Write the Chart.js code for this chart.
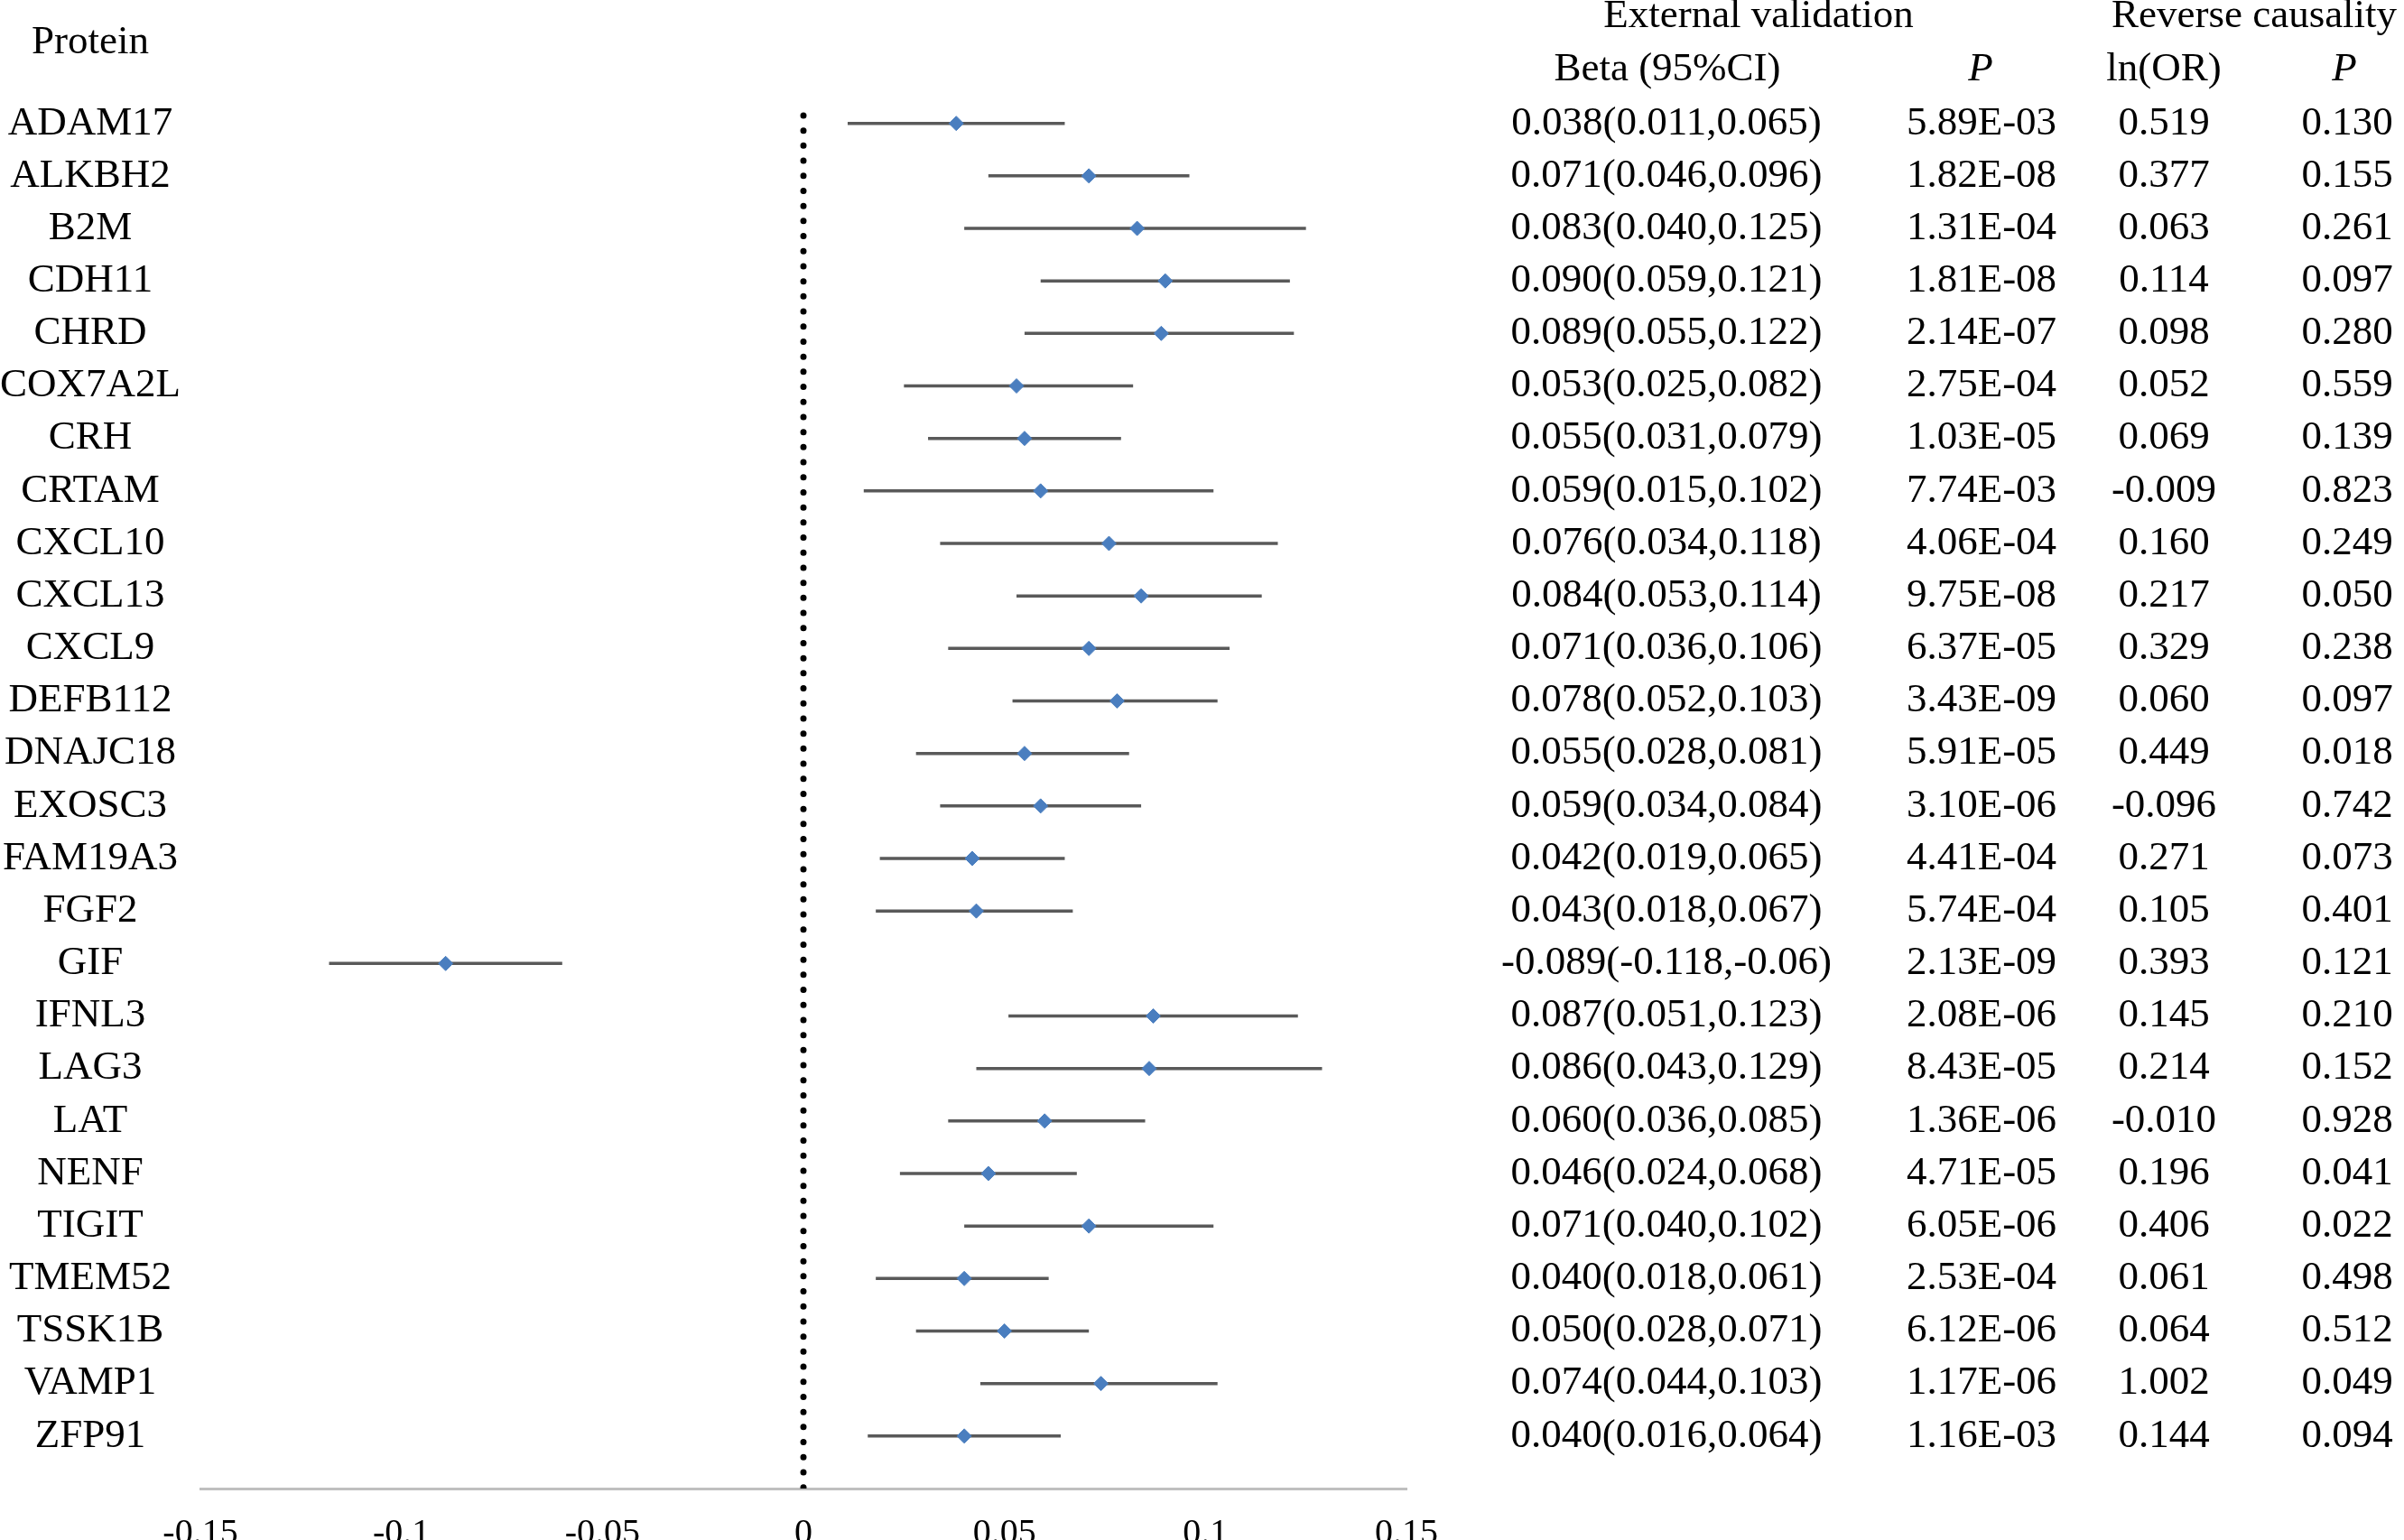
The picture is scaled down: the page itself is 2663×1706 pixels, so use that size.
<!DOCTYPE html>
<html>
<head>
<meta charset="UTF-8">
<title>Forest plot</title>
<script src="https://cdn.jsdelivr.net/npm/chart.js@4.4.1/dist/chart.umd.min.js"></script>
<style>
  html, body { margin: 0; padding: 0; background: #fff; overflow: hidden; }
  #wrap { position: relative; width: 2663px; height: 1749px; }
</style>
</head>
<body>
<div id="wrap"><canvas id="forest"></canvas></div>
<script>
// data
var proteins = ["ADAM17", "ALKBH2", "B2M", "CDH11", "CHRD", "COX7A2L", "CRH", "CRTAM",
  "CXCL10", "CXCL13", "CXCL9", "DEFB112", "DNAJC18", "EXOSC3", "FAM19A3", "FGF2",
  "GIF", "IFNL3", "LAG3", "LAT", "NENF", "TIGIT", "TMEM52", "TSSK1B", "VAMP1", "ZFP91"];
var beta = [0.038, 0.071, 0.083, 0.090, 0.089, 0.053, 0.055, 0.059, 0.076, 0.084, 0.071, 0.078, 0.055,
  0.059, 0.042, 0.043, -0.089, 0.087, 0.086, 0.060, 0.046, 0.071, 0.040, 0.050, 0.074, 0.040];
var lower = [0.011, 0.046, 0.040, 0.059, 0.055, 0.025, 0.031, 0.015, 0.034, 0.053, 0.036, 0.052, 0.028,
  0.034, 0.019, 0.018, -0.118, 0.051, 0.043, 0.036, 0.024, 0.040, 0.018, 0.028, 0.044, 0.016];
var upper = [0.065, 0.096, 0.125, 0.121, 0.122, 0.082, 0.079, 0.102, 0.118, 0.114, 0.106, 0.103, 0.081,
  0.084, 0.065, 0.067, -0.06, 0.123, 0.129, 0.085, 0.068, 0.102, 0.061, 0.071, 0.103, 0.064];
var pExternal = ["5.89E-03", "1.82E-08", "1.31E-04", "1.81E-08", "2.14E-07", "2.75E-04", "1.03E-05",
  "7.74E-03", "4.06E-04", "9.75E-08", "6.37E-05", "3.43E-09", "5.91E-05", "3.10E-06", "4.41E-04",
  "5.74E-04", "2.13E-09", "2.08E-06", "8.43E-05", "1.36E-06", "4.71E-05", "6.05E-06", "2.53E-04",
  "6.12E-06", "1.17E-06", "1.16E-03"];
var lnOR = ["0.519", "0.377", "0.063", "0.114", "0.098", "0.052", "0.069", "-0.009", "0.160", "0.217",
  "0.329", "0.060", "0.449", "-0.096", "0.271", "0.105", "0.393", "0.145", "0.214", "-0.010", "0.196",
  "0.406", "0.061", "0.064", "1.002", "0.144"];
var pReverse = ["0.130", "0.155", "0.261", "0.097", "0.280", "0.559", "0.139", "0.823", "0.249", "0.050",
  "0.238", "0.097", "0.018", "0.742", "0.073", "0.401", "0.121", "0.210", "0.152", "0.928", "0.041",
  "0.022", "0.498", "0.512", "0.049", "0.094"];
var xTicks = [-0.15, -0.1, -0.05, 0, 0.05, 0.1, 0.15];

var serif = '"Liberation Serif", "Times New Roman", serif';

function fmt(v) {
  // the figure drops trailing zeros on negative numbers (-0.06)
  return v < 0 ? String(v) : v.toFixed(3);
}

function buildData() {
  var bars = [], points = [];
  for (var i = 0; i < proteins.length; i++) {
    bars.push({x: lower[i], y: i + 1});
    bars.push({x: upper[i], y: i + 1});
    bars.push({x: null, y: null});
    points.push({x: beta[i], y: i + 1});
  }
  return {bars: bars, points: points};
}

// the table on the right side, rows placed on the chart's y scale
var tablePlugin = {
  id: 'table',
  afterDraw: function(chart) {
    var ctx = chart.ctx, ys = chart.scales.y;
    ctx.save();
    ctx.fillStyle = '#000';
    ctx.textBaseline = 'middle';
    ctx.font = '45px ' + serif;

    ctx.textAlign = 'center';
    ctx.fillText('Protein', 100, ys.getPixelForValue(-0.54));
    ctx.fillText('External validation', 1948, ys.getPixelForValue(-1.03));
    ctx.textAlign = 'left';
    ctx.fillText('Reverse causality', 2339, ys.getPixelForValue(-1.03));
    ctx.textAlign = 'center';
    var hy = ys.getPixelForValue(-0.03);
    ctx.fillText('Beta (95%CI)', 1847, hy);
    ctx.fillText('ln(OR)', 2397, hy);
    ctx.font = 'italic 45px ' + serif;
    ctx.fillText('P', 2194, hy);
    ctx.fillText('P', 2597, hy);

    ctx.font = '45px ' + serif;
    for (var i = 0; i < proteins.length; i++) {
      var y = ys.getPixelForValue(i + 1);
      ctx.fillText(fmt(beta[i]) + '(' + fmt(lower[i]) + ',' + fmt(upper[i]) + ')', 1846, y);
      ctx.fillText(pExternal[i], 2195, y);
      ctx.fillText(lnOR[i], 2397, y);
      ctx.fillText(pReverse[i], 2600, y);
    }
    ctx.restore();
  }
};

function init() {
  var d = buildData();
  var ctx = document.getElementById('forest').getContext('2d');
  new Chart(ctx, {
    type: 'scatter',
    data: {
      datasets: [
        {
          // zero reference line, round dots
          data: [{x: 0, y: 0.85}, {x: 0, y: 27}],
          showLine: true,
          borderColor: '#000',
          borderWidth: 7,
          borderDash: [0, 16.7],
          borderCapStyle: 'round',
          pointRadius: 0,
          order: 3
        },
        {
          data: d.bars,
          showLine: true,
          spanGaps: false,
          borderColor: '#595959',
          borderWidth: 3.5,
          pointRadius: 0,
          order: 2
        },
        {
          data: d.points,
          pointStyle: 'rectRot',
          pointRadius: 8,
          pointBackgroundColor: '#4a7ebf',
          pointBorderColor: '#4a7ebf',
          pointBorderWidth: 1,
          order: 1
        }
      ]
    },
    options: {
      responsive: true,
      maintainAspectRatio: false,
      devicePixelRatio: 1,
      animation: false,
      layout: { autoPadding: false, padding: { left: 0, right: 1105, top: 0, bottom: 0 } },
      plugins: { legend: { display: false }, tooltip: { enabled: false } },
      scales: {
        x: {
          type: 'linear',
          min: -0.15,
          max: 0.15,
          afterBuildTicks: function(s) { s.ticks = xTicks.map(function(v) { return {value: v}; }); },
          grid: { drawOnChartArea: false, drawTicks: false },
          border: { display: true, color: '#bfbfbf', width: 3 },
          ticks: {
            color: '#000',
            font: { family: serif, size: 40 },
            padding: 26,
            maxRotation: 0,
            callback: function(v) { return String(v); }
          }
        },
        y: {
          type: 'linear',
          reverse: true,
          min: -1.35,
          max: 27,
          afterBuildTicks: function(s) { s.ticks = proteins.map(function(p, i) { return {value: i + 1}; }); },
          afterFit: function(s) { s.width = 222; s.paddingTop = 0; s.paddingBottom = 0; },
          grid: { drawOnChartArea: false, drawTicks: false },
          border: { display: false },
          ticks: {
            color: '#000',
            font: { family: serif, size: 45 },
            padding: 22,
            crossAlign: 'center',
            autoSkip: false,
            callback: function(v) { return proteins[v - 1] || ''; }
          }
        }
      }
    },
    plugins: [tablePlugin]
  });
}

window.onload = init;
</script>
</body>
</html>
